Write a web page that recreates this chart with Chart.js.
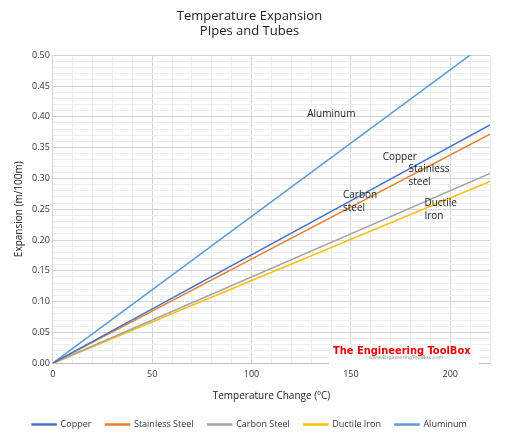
<!DOCTYPE html><html><head><script src="https://cdn.jsdelivr.net/npm/chart.js"></script>
<style>body{margin:0;background:#fff}#w{width:507px;height:443px}</style></head><body><div id="w"><canvas id="c"></canvas></div>
<script>
const xValues=[0,220];
const seriesNames=["Copper","Stainless Steel","Carbon Steel","Ductile Iron","Aluminum"];
const copper=[0,0.387];
const stainless=[0,0.372];
const carbon=[0,0.308];
const ductile=[0,0.295];
const aluminum=[0,0.524];
const colors=["#4472C4","#ED7D31","#A5A5A5","#FFC000","#5B9BD5"];
const labels=[["Aluminum",128,0.404,"left"],["Copper",166,0.335,"left"],["Stainless",179,0.315,"left"],["steel",179,0.294,"left"],["Carbon",146,0.273,"left"],["steel",146,0.252,"left"],["Ductile",187,0.259,"left"],["Iron",187,0.238,"left"]];
const all=[copper,stainless,carbon,ductile,aluminum];
const ann={id:'ann',afterDatasetsDraw(ch){const c=ch.ctx,x=ch.scales.x,y=ch.scales.y;c.save();c.fillStyle='#222';c.font='10px "Open Sans"';c.textBaseline='middle';
labels.forEach(l=>{c.textAlign=l[3];c.fillText(l[0],x.getPixelForValue(l[1]),y.getPixelForValue(l[2]));});
c.fillStyle='#fff';c.fillRect(x.getPixelForValue(139),y.getPixelForValue(0.03),150,22);
c.fillStyle='#e00';c.font='bold 11px "DejaVu Sans Condensed"';c.textAlign='left';c.fillText('The Engineering ToolBox',x.getPixelForValue(141),y.getPixelForValue(0.02));
c.fillStyle='#888';c.font='5px "DejaVu Sans"';c.fillText('www.EngineeringToolBox.com',x.getPixelForValue(159),y.getPixelForValue(0.009));c.restore();}};
new Chart(document.getElementById('c'),{type:'scatter',data:{datasets:seriesNames.map((n,i)=>({label:n,data:xValues.map((v,j)=>({x:v,y:all[i][j]})),showLine:true,borderColor:colors[i],backgroundColor:colors[i],borderWidth:1.5,pointRadius:0}))},
options:{animation:false,responsive:true,maintainAspectRatio:false,layout:{padding:{right:17,left:9,bottom:4}},
plugins:{title:{display:true,text:['Temperature Expansion','PIpes and Tubes'],color:'#222',font:{family:'"Open Sans"',size:13,weight:'normal'},padding:{top:8,bottom:16}},
legend:{position:'bottom',labels:{boxWidth:24,boxHeight:1,color:'#333',font:{family:'"Open Sans"',size:9},padding:14}},tooltip:{enabled:false}},
scales:{x:{type:'linear',min:0,max:220,ticks:{stepSize:10,autoSkip:false,maxRotation:0,color:'#333',font:{family:'"Open Sans"',size:9},padding:6,callback:v=>v%50===0?v:''},
grid:{color:c=>c.tick&&c.tick.value%50===0?'#d4d4d4':'#eeeeee',drawTicks:false},border:{color:'#bfbfbf'},title:{display:true,text:'Temperature Change (ºC)',color:'#222',font:{family:'"Open Sans"',size:10}}},
y:{min:0,max:0.5,ticks:{stepSize:0.01,autoSkip:false,color:'#333',font:{family:'"Open Sans"',size:9},callback:v=>Math.round(v*100)%5===0?v.toFixed(2):''},
grid:{color:c=>c.tick&&Math.round(c.tick.value*100)%5===0?'#d4d4d4':'#eeeeee',drawTicks:false},border:{display:false},title:{display:true,text:'Expansion (m/100m)',color:'#222',font:{family:'"Open Sans"',size:10}}}}},plugins:[ann]});
</script></body></html>
